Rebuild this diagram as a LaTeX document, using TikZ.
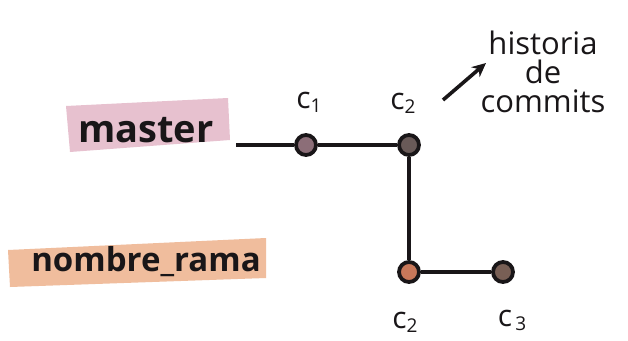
\documentclass[tikz,border=0pt]{standalone}
\usepackage{fontspec}
\setmainfont{Open Sans}
\usetikzlibrary{arrows.meta}
\definecolor{hlpink}{RGB}{226,178,196}
\definecolor{hlorange}{RGB}{238,178,140}
\definecolor{ink}{RGB}{25,22,24}
\definecolor{fillA}{RGB}{140,110,120}
\definecolor{fillB}{RGB}{105,90,88}
\definecolor{fillC}{RGB}{200,120,90}
\definecolor{fillD}{RGB}{120,95,85}
\newcommand{\csub}[1]{c\raisebox{-4pt}{\fontsize{19}{20}\selectfont #1}}
\tikzset{
  x=1pt, y=-1pt,
  commit/.style={circle, draw=ink, line width=3.8pt, minimum size=20pt, inner sep=0pt},
  edge/.style={draw=ink, line width=3.6pt},
  lbl/.style={text=ink, inner sep=0pt, font=\fontsize{30}{30}\selectfont},
  hand/.style={text=ink, inner sep=0pt}
}
\begin{document}
\begin{tikzpicture}
\useasboundingbox (0,0) rectangle (628,340);
\fill[white] (0,0) rectangle (628,340);
% branch name highlights
\fill[hlpink, opacity=0.8] (66,106) -- (228,98) -- (230,140) -- (70,152) -- cycle;
\fill[hlorange, opacity=0.85] (8,250) -- (266,238) -- (266,278) -- (10,287) -- cycle;
% branch names
\node[hand, font=\fontsize{38}{40}\selectfont\bfseries] (master) at (146,130) {master};
\node[hand, font=\fontsize{33}{35}\selectfont\bfseries] (rama) at (146,262) {nombre\_rama};
% commits
\node[commit, fill=fillA] (c1) at (306,145) {};
\node[commit, fill=fillB] (c2) at (409,145) {};
\node[commit, fill=fillC] (c2b) at (409,272) {};
\node[commit, fill=fillD] (c3) at (503,272) {};
\coordinate (mend) at (236,145);
% connections
\draw[edge] (mend) -- (c1);
\draw[edge] (c1) -- (c2);
\draw[edge] (c2) -- (c2b);
\draw[edge] (c2b) -- (c3);
% commit labels
\node[lbl] (l1) at (309,102) {\csub{1}};
\node[lbl] (l2) at (403,103) {\csub{2}};
\node[lbl] (l3) at (405,322) {\csub{2}};
\node[lbl] (l4) at (512,320) {\csub{\,3}};
% annotation
\node[hand, font=\fontsize{31}{29}\selectfont, align=center] (hist) at (543,72) {historia\\de\\commits};
\coordinate (as) at (443,100);
\coordinate (ae) at (486,63);
\draw[edge, -{Stealth[length=14pt,width=13pt]}] (as) -- (ae);
\end{tikzpicture}
\end{document}
